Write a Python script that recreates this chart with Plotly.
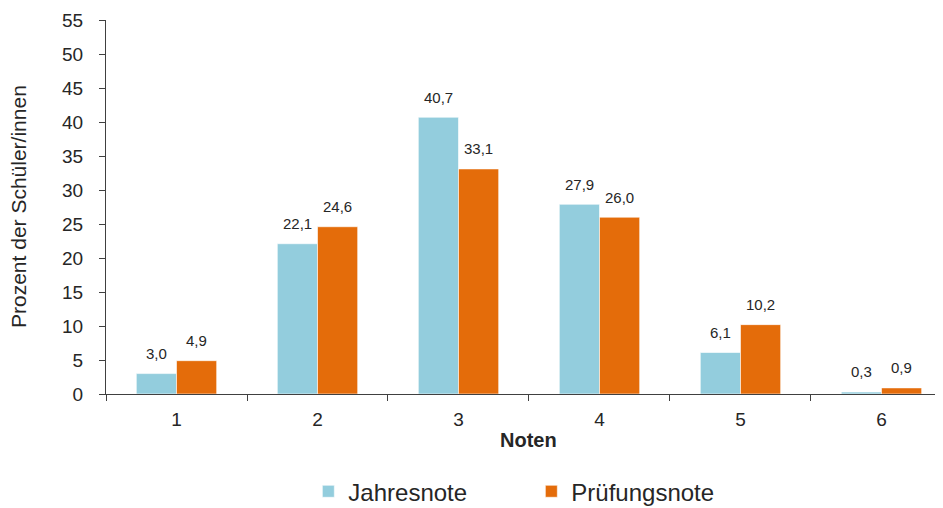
import plotly.graph_objects as go

categories = ["1", "2", "3", "4", "5", "6"]
jahresnote = [3.0, 22.1, 40.7, 27.9, 6.1, 0.3]
pruefungsnote = [4.9, 24.6, 33.1, 26.0, 10.2, 0.9]
series_names = ["Jahresnote", "Prüfungsnote"]
y_ticks = [0, 5, 10, 15, 20, 25, 30, 35, 40, 45, 50, 55]

def fmt(v):
    return f"{v:.1f}".replace(".", ",")

BLUE = "#93CDDD"
ORANGE = "#E46C0A"
FONT = "Liberation Sans, Arial, sans-serif"
TXT = "#262626"

fig = go.Figure()
fig.add_bar(x=categories, y=jahresnote, name=series_names[0],
            marker=dict(color=BLUE, line=dict(color="white", width=0.6)))
fig.add_bar(x=categories, y=pruefungsnote, name=series_names[1],
            marker=dict(color=ORANGE, line=dict(color="white", width=0.6)))

ann = []
for i, c in enumerate(categories):
    ann.append(dict(x=i, y=jahresnote[i], text=fmt(jahresnote[i]), xshift=-20, yshift=20,
                    yanchor="middle", showarrow=False, font=dict(size=15, color=TXT, family=FONT)))
    ann.append(dict(x=i, y=pruefungsnote[i], text=fmt(pruefungsnote[i]), xshift=20, yshift=20,
                    yanchor="middle", showarrow=False, font=dict(size=15, color=TXT, family=FONT)))
ann.append(dict(x=2.5, y=0, yref="y", text="<b>Noten</b>", showarrow=False, yshift=-46,
                yanchor="middle", font=dict(size=20, color=TXT, family=FONT)))
ann.append(dict(x=0, xref="paper", y=0.5, yref="paper", xshift=-88, textangle=-90,
                text="Prozent der Schüler/innen", showarrow=False,
                xanchor="center", yanchor="middle",
                font=dict(size=21, color=TXT, family=FONT)))

# page body has an 8px default margin, so the figure is sized to fit inside it
fig.update_layout(
    width=935, height=500,
    margin=dict(l=98, r=3, t=12, b=114, autoexpand=False),
    plot_bgcolor="white", paper_bgcolor="white",
    barmode="group", bargap=0.43, bargroupgap=0,
    font=dict(family=FONT, color=TXT, size=16),
    annotations=ann,
    legend=dict(orientation="h", x=0.510, xanchor="center", xref="paper",
                y=-0.201, yanchor="top", font=dict(size=24, color=TXT),
                entrywidth=178, entrywidthmode="pixels", itemwidth=30,
                traceorder="normal"),
    xaxis=dict(type="category", range=[-0.5, 5.415], showline=True, linecolor="#404040",
               linewidth=1, ticks="outside", tickson="boundaries", ticklen=6,
               tickcolor="#404040", showgrid=False, automargin=False,
               ticklabelstandoff=8, tickfont=dict(size=19, color=TXT)),
    yaxis=dict(range=[0, 55], tickvals=y_ticks, showline=True, linecolor="#404040",
               linewidth=1, ticks="outside", ticklen=6, tickcolor="#404040",
               showgrid=False, zeroline=False, automargin=False,
               ticklabelstandoff=12, tickfont=dict(size=19, color=TXT)),
)

fig.write_html("out.html")
